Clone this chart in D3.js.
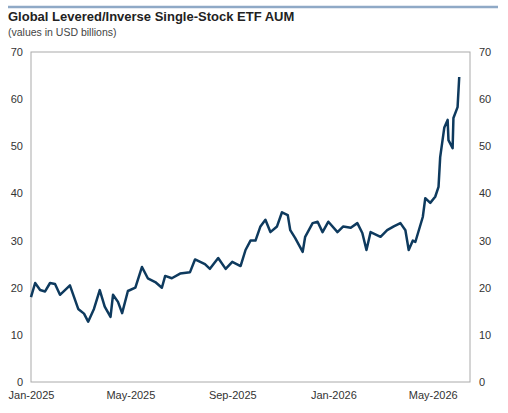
<!DOCTYPE html><html><head><meta charset="utf-8"><script src="https://cdn.jsdelivr.net/npm/d3@7"></script>
<style>body{margin:0;background:#fff}text{font-family:"Liberation Sans",Arial,sans-serif}</style></head><body><svg id="c" width="508" height="413"></svg>
<script>
const dates=["2025-01-01","2025-01-06","2025-01-12","2025-01-18","2025-01-24","2025-01-30","2025-02-05","2025-02-11","2025-02-17","2025-02-27","2025-03-06","2025-03-11","2025-03-18","2025-03-25","2025-03-31","2025-04-07","2025-04-10","2025-04-16","2025-04-21","2025-04-28","2025-05-07","2025-05-15","2025-05-22","2025-05-31","2025-06-08","2025-06-12","2025-06-20","2025-06-30","2025-07-12","2025-07-18","2025-07-30","2025-08-05","2025-08-15","2025-08-24","2025-09-01","2025-09-11","2025-09-17","2025-09-23","2025-09-29","2025-10-05","2025-10-11","2025-10-17","2025-10-25","2025-10-31","2025-11-07","2025-11-10","2025-11-16","2025-11-25","2025-11-28","2025-12-07","2025-12-13","2025-12-19","2025-12-26","2026-01-06","2026-01-13","2026-01-22","2026-01-30","2026-02-05","2026-02-10","2026-02-15","2026-02-27","2026-03-07","2026-03-15","2026-03-23","2026-03-29","2026-04-02","2026-04-07","2026-04-10","2026-04-19","2026-04-22","2026-04-28","2026-05-04","2026-05-08","2026-05-10","2026-05-15","2026-05-19","2026-05-20","2026-05-25","2026-05-26","2026-05-31","2026-06-02"];
const aum=[18,21,19.5,19.2,21,20.8,18.5,19.5,20.5,15.5,14.5,12.8,15.5,19.5,16,13.8,18.5,17,14.6,19.3,20,24.4,22,21.2,20,22.5,22,23,23.3,26,25,24,26.3,24,25.5,24.6,28,30,30,33,34.4,31.8,33,36,35.4,32.2,30.5,27.6,30.8,33.7,34,31.8,34,31.8,33,32.7,33.7,31.6,28,31.8,30.8,32.2,33,33.7,32.2,28,30,29.7,35,39,38,39.3,41.4,47.7,54,55.6,51.3,49.6,56,58.3,64.7];
const yTicks=[0,10,20,30,40,50,60,70];
const xTickLabels=["Jan-2025","May-2025","Sep-2025","Jan-2026","May-2026"];
const xTickDates=["2025-01-01","2025-05-01","2025-09-01","2026-01-01","2026-05-01"];
const P=d3.timeParse("%Y-%m-%d");
const svg=d3.select("#c");
const L=31,R=470,T=52,B=382;
const x=d3.scaleTime().domain([P("2025-01-01"),P("2026-06-15")]).range([L,R]);
const y=d3.scaleLinear().domain([0,70]).range([B,T]);
svg.append("line").attr("x1",8).attr("x2",498).attr("y1",7).attr("y2",7).attr("stroke","#8fa9c6").attr("stroke-width",2.5);
svg.append("text").attr("x",8).attr("y",21).attr("font-size",13).attr("font-weight","bold").attr("fill","#222").text("Global Levered/Inverse Single-Stock ETF AUM");
svg.append("text").attr("x",8).attr("y",36).attr("font-size",10.5).attr("fill","#444").text("(values in USD billions)");
svg.append("rect").attr("x",L).attr("y",T).attr("width",R-L).attr("height",B-T).attr("fill","none").attr("stroke","#aaa").attr("stroke-width",1);
const yl=svg.append("g").attr("transform",`translate(${L},0)`).call(d3.axisLeft(y).tickValues(yTicks).tickSize(0).tickPadding(8));
const yr=svg.append("g").attr("transform",`translate(${R},0)`).call(d3.axisRight(y).tickValues(yTicks).tickSize(0).tickPadding(9));
const xa=svg.append("g").attr("transform",`translate(0,${B})`).call(d3.axisBottom(x).tickValues(xTickDates.map(P)).tickFormat((d,i)=>xTickLabels[i]).tickSize(0).tickPadding(9));
[yl,yr,xa].forEach(g=>{g.select(".domain").remove();g.selectAll("text").attr("font-size",11).attr("fill","#333").style("font-family","Liberation Sans, Arial, sans-serif");});
svg.append("path").datum(dates.map((d,i)=>[P(d),aum[i]])).attr("fill","none").attr("stroke","#0e3a5e").attr("stroke-width",2.5).attr("stroke-linejoin","round")
 .attr("d",d3.line().x(d=>x(d[0])).y(d=>y(d[1])));
</script></body></html>
